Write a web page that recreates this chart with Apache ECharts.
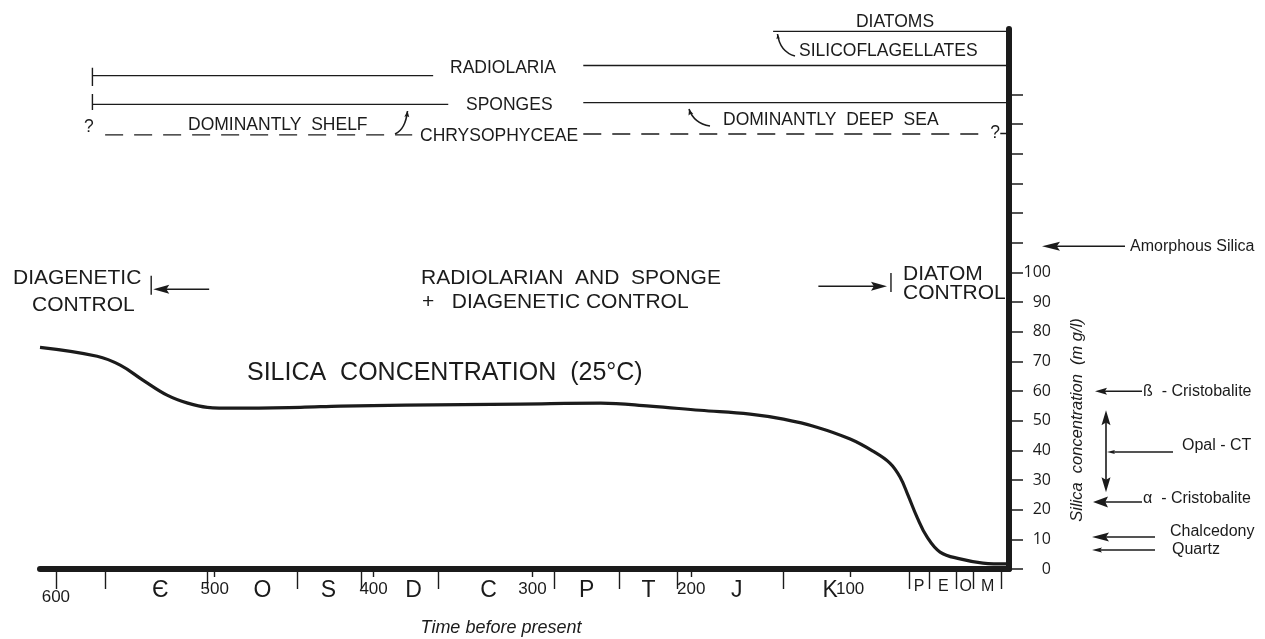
<!DOCTYPE html>
<html><head><meta charset="utf-8">
<script src="https://cdn.jsdelivr.net/npm/echarts@6/dist/echarts.min.js"></script>
<style>html,body{margin:0;padding:0;background:#fff}#c{width:1265px;height:639px}</style>
</head><body><div id="c"></div>
<script>
// ---- data (time before present in Ma, silica in mg/l) ----
const silicaCurve = [
  [610,74.7],[574,71.7],[559.5,68.7],[545,63.6],[530,58.6],[517,55.9],[504.7,54.5],[488,54.2],
  [446,54.5],[421,54.9],[380,55.2],[307.7,55.6],[257,55.9],[226,54.9],[194.5,53.5],[163,52.2],
  [142,50.5],[121,47.8],[100,43.8],[85.6,39.7],[75,35.7],[68.6,31.0],[63.6,24.9],[57.9,17.5],
  [51.6,10.8],[43.4,5.7],[30.8,3.4],[16.4,2.0],[1.3,1.7]
];
const ageTicks = [100, 200, 300, 400, 500, 600];
const periodBoundaries = [600, 569, 504.5, 448, 407.5, 359, 286, 245.5, 209, 142, 63, 50.5, 33.5, 22.5, 4.6];
const periodNames = ['Є','O','S','D','C','P','T','J','K'];
const periodCenters = [534.3, 470, 428.4, 374.9, 327.7, 265.8, 227, 171.4, 112.6];
const epochNames = ['P','E','O','M'];
const epochCenters = [56.6, 41.3, 27.3, 13.4];
const yTickValues = [0,10,20,30,40,50,60,70,80,90,100,110,120,130,140,150,160];
const yLabelValues = [0,10,20,30,40,50,60,70,80,90,100];

// organism ranges [time, level]
const diatoms = [[148.5,181.2],[0,181.2]];
const radiolariaOld = [[577,166.3],[362.5,166.3]];
const radiolariaYoung = [[268,169.7],[0,169.7]];
const spongesOld = [[577,156.6],[353,156.6]];
const spongesYoung = [[268,157.2],[0,157.2]];
const radiolariaStart = [[577,168.9],[577,162.8]];
const spongesStart = [[577,160.1],[577,154.7]];
const chrysoOld = [[569,146.3],[375.7,146.3]];
const chrysoYoung = [[268,146.6],[13,146.6]];
const chrysoEnd = [[5.5,146.8],[0,146.8]];

// control regimes
const diageneticArrow = [[503.5,94.3],[538.7,94.3]];
const diageneticBar = [[540,98.8],[540,92.4]];
const diatomArrow = [[120,95.3],[76.8,95.3]];
const diatomBar = [[74.3,99.8],[74.3,93.4]];

// silica phases (mg/l)
const mineralNames = ['Amorphous Silica','ß  - Cristobalite','Opal - CT','α  - Cristobalite','Chalcedony','Quartz'];
const mineralLevels = [108.8, 59.9, 39.4, 22.6, 10.8, 6.4];
const opalRange = [53.5, 25.9];

// ---- chart ----
const INK = '#1b1b1b';
const FONT = '"Liberation Sans", Arial, sans-serif';
const chart = echarts.init(document.getElementById('c'));

function xa(extra) {
  return Object.assign({
    type:'value', min:0, max:610, inverse:true, position:'bottom', gridIndex:0,
    splitLine:{show:false}, axisLine:{show:false, onZero:false}, axisTick:{show:false}, axisLabel:{show:false}
  }, extra);
}
function near(arr, v){ return arr.findIndex(a => Math.abs(a - v) < 1e-6); }
function seg(data, dashed, w){
  return {type:'line', data, symbol:'none', silent:true, xAxisIndex:0, yAxisIndex:0, z:3,
    lineStyle:{color:INK, width:w||1.4, type:dashed?[18,11]:'solid'}};
}

chart.setOption({
  animation:false,
  backgroundColor:'#ffffff',
  grid:{left:40, right:256, top:29, bottom:70},
  xAxis:[
    xa({axisLine:{show:true, onZero:false, lineStyle:{color:INK, width:6}},
        axisTick:{show:true, customValues:ageTicks.slice(0,5), length:8, lineStyle:{color:INK, width:1.4}},
        axisLabel:{show:true, customValues:ageTicks, margin:12, color:INK, fontFamily:FONT, fontSize:17, lineHeight:17,
          formatter: v => v === 600 ? '{lo|600}' : String(v),
          rich:{lo:{fontFamily:FONT, fontSize:17, lineHeight:33, color:INK}}}}),
    xa({axisTick:{show:true, customValues:periodBoundaries, length:20, lineStyle:{color:INK, width:1.4}}}),
    xa({axisLabel:{show:true, customValues:periodCenters.concat(epochCenters), margin:10, color:INK,
        formatter: v => {
          const i = near(periodCenters, v);
          if (i >= 0) return '{big|' + periodNames[i] + '}';
          const j = near(epochCenters, v);
          return j >= 0 ? '{sm|' + epochNames[j] + '}' : '';
        },
        rich:{big:{fontFamily:FONT, fontSize:23, color:INK}, sm:{fontFamily:FONT, fontSize:16, color:INK}}}})
  ],
  yAxis:[{
    type:'value', min:0, max:182, position:'right',
    splitLine:{show:false},
    axisLine:{show:true, onZero:false, lineStyle:{color:INK, width:6}},
    axisTick:{show:true, customValues:yTickValues, length:14, lineStyle:{color:INK, width:1.5}},
    axisLabel:{show:true, customValues:yLabelValues, align:'right', margin:42, color:INK,
      fontFamily:'"Open Sans", sans-serif', fontSize:16}
  }],
  series:[
    {type:'line', name:'Silica concentration', data:silicaCurve, smooth:0.4, symbol:'none', silent:true,
      xAxisIndex:0, yAxisIndex:0, z:4, lineStyle:{color:INK, width:3.2}},
    seg(diatoms), seg(radiolariaOld), seg(radiolariaYoung), seg(spongesOld), seg(spongesYoung),
    seg(radiolariaStart), seg(spongesStart),
    seg(chrysoOld, true), seg(chrysoYoung, true), seg(chrysoEnd),
    seg(diageneticBar), seg(diatomBar)
  ]
});

// ---- annotations ----
function px(p){ return chart.convertToPixel({xAxisIndex:0, yAxisIndex:0}, p); }
function py(v){ return chart.convertToPixel({yAxisIndex:0}, v); }
function head(x2,y2,ux,uy,len,hw){
  const bx = x2 - ux*len, by = y2 - uy*len, nx = -uy, ny = ux, n = len*0.18;
  return {type:'polygon', silent:true, shape:{points:[[x2,y2],[bx+nx*hw,by+ny*hw],[bx+ux*n,by+uy*n],[bx-nx*hw,by-ny*hw]]},
    style:{fill:INK}};
}
function arrow(x1,y1,x2,y2,len,hw,w){
  const dx=x2-x1, dy=y2-y1, L=Math.hypot(dx,dy), ux=dx/L, uy=dy/L;
  return [
    {type:'line', silent:true, shape:{x1, y1, x2:x2-ux*len*0.6, y2:y2-uy*len*0.6}, style:{stroke:INK, lineWidth:w||1.4}},
    head(x2,y2,ux,uy,len,hw)
  ];
}
function hook(p0,c1,c2,p3,len,hw){
  const dx=p3[0]-c2[0], dy=p3[1]-c2[1], L=Math.hypot(dx,dy);
  const out = [{type:'bezierCurve', silent:true,
    shape:{x1:p0[0],y1:p0[1],cpx1:c1[0],cpy1:c1[1],cpx2:c2[0],cpy2:c2[1],x2:p3[0],y2:p3[1]},
    style:{stroke:INK, lineWidth:1.6, fill:null}}];
  if (len) out.push(head(p3[0],p3[1],dx/L,dy/L,len,hw));
  return out;
}
function txt(s, x, y, size, opt){
  opt = opt || {};
  return {type:'text', silent:true, x, y, rotation:opt.rot||0,
    style:{text:s, fill:INK, align:opt.align||'left', verticalAlign:'middle',
      font:(opt.italic?'italic ':'') + size + 'px ' + (opt.family||FONT)}};
}

const g = [];
// control arrows
let a = px(diageneticArrow[0]), b = px(diageneticArrow[1]);
g.push(...arrow(a[0],a[1],b[0],b[1],16,4.5,1.6));
a = px(diatomArrow[0]); b = px(diatomArrow[1]);
g.push(...arrow(a[0],a[1],b[0],b[1],16,4.5,1.6));

// silica phase arrows (x = layout, y = data)
const mTail = [1125,1142,1173,1142,1155,1155];
const mTip  = [1042,1095,1107,1093,1092,1092];
const mHead = [[18,4.5],[12,3.5],[8,2],[15,5.5],[17,4.5],[10,2.5]];
const mTextX = [1130,1143,1182,1143,1170,1172];
const mTextDy = [0,0,-7,-3,-5,0];
mineralLevels.forEach((v,i) => {
  const y = py(v);
  g.push(...arrow(mTail[i], y, mTip[i], y, mHead[i][0], mHead[i][1], 1.5));
  g.push(txt(mineralNames[i], mTextX[i], y + mTextDy[i], 16));
});
const yo1 = py(opalRange[0]), yo2 = py(opalRange[1]);
g.push({type:'line', silent:true, shape:{x1:1106,y1:yo1+8,x2:1106,y2:yo2-8}, style:{stroke:INK,lineWidth:1.6}});
g.push(head(1106,yo1,0,-1,15,4.5), head(1106,yo2,0,1,15,4.5));

// hooks
g.push(...hook([395,134],[402,131],[406,124],[407.5,111],6,2.5));
g.push(...hook([710,126],[698,124],[692,118],[689,109],6,2.5));
g.push(...hook([795,56],[784,53],[779,45],[777.5,34],5,1.8));

// texts
const T = 17.5;
g.push(txt('DIATOMS', 895, 22, T, {align:'center'}));
g.push(txt('SILICOFLAGELLATES', 799, 51, T));
g.push(txt('RADIOLARIA', 450, 68, T));
g.push(txt('SPONGES', 466, 105, T));
g.push(txt('CHRYSOPHYCEAE', 420, 136, T));
g.push(txt('DOMINANTLY  SHELF', 188, 125, T));
g.push(txt('DOMINANTLY  DEEP  SEA', 723, 120, T));
g.push(txt('?', 84, 127, T));
g.push(txt('?', 995, 133, T, {align:'center'}));

const B = 21;
g.push(txt('DIAGENETIC', 13, 278, B));
g.push(txt('CONTROL', 32, 305, B));
g.push(txt('RADIOLARIAN  AND  SPONGE', 421, 278, B));
g.push(txt('+   DIAGENETIC CONTROL', 422, 302, B));
g.push(txt('DIATOM', 903, 274, B));
g.push(txt('CONTROL', 903, 293, B));
g.push(txt('SILICA  CONCENTRATION  (25°C)', 247, 373, 25));

g.push(txt('Silica  concentration  (m g/l)', 1077, 420, 16.5, {italic:true, align:'center', rot:Math.PI/2}));
g.push(txt('Time before present', 501, 628, 18, {italic:true, align:'center'}));

chart.setOption({graphic:g});
</script></body></html>
